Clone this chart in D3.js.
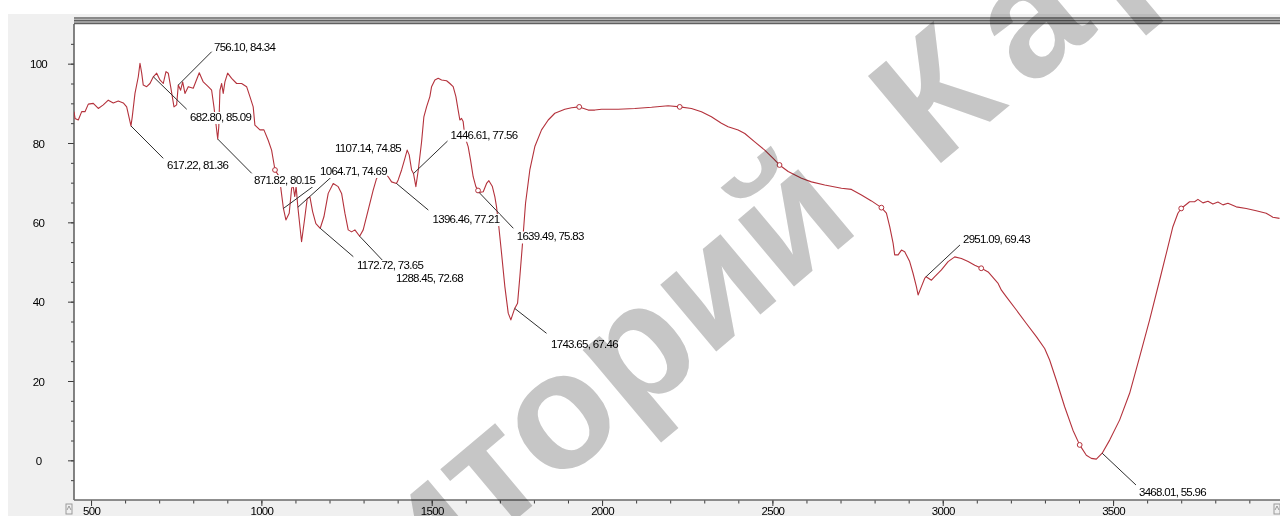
<!DOCTYPE html>
<html>
<head>
<meta charset="utf-8">
<script src="https://cdn.jsdelivr.net/npm/d3@7"></script>
<style>
  html, body { margin: 0; padding: 0; background: #ffffff; }
  svg { display: block; }
  .lbl { font-family: "Liberation Sans", Arial, sans-serif; font-size: 11.5px; letter-spacing: -0.7px; fill: #000; }
  .wm { white-space: pre; }
</style>
</head>
<body>
<svg id="chart" width="1280" height="516"></svg>
<script>
// IR spectrum: wavenumber (cm-1) and transmittance (display scale)
const wavenumber = [
  450, 453, 462.6, 472.6, 482.3, 492, 506.6, 521.3, 536, 550.6, 565.3, 580, 594.7, 604.6,
  617.22, 621, 629, 638.7, 643.7, 648.7, 653.3, 663.3, 673, 682.8, 692.7, 702.3, 712, 720,
  726.7, 733.7, 743.5, 751.3, 756.1, 763, 769, 775.7, 785.4, 800, 817.7, 829.4, 844, 854,
  860.8, 871.82, 875, 878.4, 883.4, 888, 893, 901, 912.7, 927.4, 942, 956.7, 966.4, 976,
  981, 995.8, 1007.5, 1020, 1030, 1040, 1049.5, 1056.5, 1064.71, 1072, 1081.7, 1088.8,
  1093, 1098, 1102, 1107.14, 1118, 1127.8, 1134.6, 1142.5, 1150.4, 1160, 1172.72, 1183.6,
  1196.2, 1210.9, 1225.5, 1235.5, 1245.2, 1254.9, 1264.8, 1274.5, 1288.45, 1298.9, 1313.5,
  1328.2, 1338.2, 1350, 1362, 1372.3, 1382.2, 1396.46, 1401.6, 1411.6, 1421.3, 1428,
  1433.9, 1441, 1446.61, 1453.5, 1460.3, 1470.3, 1477, 1484.9, 1494.6, 1499.6, 1509.3,
  1519, 1529, 1543.6, 1553.3, 1563, 1571, 1577.6, 1582.6, 1587.6, 1592.3, 1597.3, 1607,
  1614, 1621.7, 1629.6, 1639.49, 1651.3, 1661, 1667.8, 1677.7, 1685.4, 1690.3, 1697, 1705,
  1714.7, 1724.6, 1732.3, 1743.65, 1752, 1758.7, 1765.7, 1775.4, 1788, 1802.7, 1822.4,
  1842, 1861.4, 1890.7, 1910.4, 1933, 1959.5, 1978.8, 1998.5, 2047.5, 2096.2, 2145.2,
  2194, 2228.5, 2262.4, 2291.7, 2321, 2350.4, 2370, 2399.5, 2419, 2448.2, 2477.6, 2502.3,
  2521.6, 2546.3, 2585.4, 2614.7, 2653.7, 2702.7, 2732, 2761.4, 2790.7, 2820, 2834.7,
  2844.4, 2854.4, 2859, 2869, 2878.8, 2888.4, 2903, 2913, 2922.7, 2927.7, 2937.4, 2947.2,
  2951.09, 2966.9, 2976.6, 2996.2, 3015.8, 3035.2, 3054.9, 3074.5, 3094, 3113.6, 3133.3,
  3162.6, 3172.3, 3186.9, 3216.2, 3245.5, 3274.8, 3299.2, 3313.8, 3333.5, 3357.9, 3382.2,
  3401.9, 3421.5, 3436.2, 3450.9, 3468.01, 3490, 3519.4, 3548.6, 3578, 3607.3, 3636.6,
  3656.3, 3675.6, 3690.3, 3700, 3724.6, 3739.4, 3749.1, 3763.8, 3778.5, 3793.1, 3807.8,
  3822.5, 3837.2, 3861.5, 3890.9, 3920.2, 3949.5, 3969, 3988.6
];
const transmittance = [
  87.9, 86.2, 85.8, 87.9, 87.9, 89.8, 90.0, 88.7, 89.6, 90.8, 90.1, 90.6, 90.1, 89.1,
  84.3, 86.6, 92.5, 96.7, 100.1, 97.6, 94.6, 94.2, 95.0, 96.7, 97.6, 95.9, 95.0, 98.0,
  97.6, 94.2, 89.1, 89.6, 94.6, 93.3, 95.4, 92.5, 94.2, 93.8, 97.7, 95.4, 94.2, 93.3,
  89.1, 81.0, 84.1, 93.3, 95.0, 92.5, 95.4, 97.6, 96.3, 95.0, 95.0, 94.2, 91.7, 89.1,
  84.5, 83.3, 83.3, 80.7, 78.2, 73.2, 71.9, 69.0, 63.5, 60.6, 62.3, 68.6,
  69.3, 66.5, 69.0, 63.8, 55.1, 61.4, 66.0, 66.4, 62.7, 59.7, 58.5, 61.4,
  67.3, 69.8, 69.0, 67.3, 62.3, 58.1, 57.6, 58.1, 56.5, 58.1, 63.1,
  68.1, 71.1, 72.0, 72.0, 71.5, 70.2, 69.8, 70.7, 73.2, 76.1, 78.2,
  77.0, 73.2, 72.3, 69.0, 73.0, 80.3, 86.6, 89.1, 91.7, 94.2, 95.9,
  96.3, 95.9, 95.7, 95.0, 94.2, 91.7, 88.3, 85.8, 86.2, 85.4, 81.6, 79.1,
  75.7, 71.5, 69.0, 67.5, 67.7, 69.8, 70.5, 69.1, 66.4, 63.9, 58.9, 52.2,
  43.8, 37.1, 35.4, 38.3, 39.6, 46.3, 53.8, 64.8, 73.2, 79.1, 83.3,
  85.8, 87.5, 88.5, 88.9, 89.1, 88.3, 88.3, 88.5, 88.5, 88.7, 89.0,
  89.4, 89.1, 88.7, 87.9, 86.6, 85.0, 84.1, 83.3, 82.4, 80.3, 78.2, 76.1,
  74.4, 72.8, 71.1, 70.2, 69.4, 68.6, 68.3, 66.9, 65.4, 63.7, 62.3,
  58.9, 54.7, 51.8, 51.8, 53.0, 52.6, 50.1, 47.1, 43.8, 41.7, 43.8, 45.9,
  46.3, 45.4, 46.3, 48.0, 50.1, 51.3, 50.9, 50.1, 49.2, 48.4, 47.5,
  44.6, 42.9, 41.2, 37.9, 34.5, 31.2, 28.2, 25.3, 20.2, 13.5, 7.6,
  3.9, 1.3, 0.5, 0.3, 1.8, 5.1, 10.2, 16.9, 26.1, 35.4, 45.4,
  52.2, 58.9, 62.3, 63.5, 65.2, 65.2, 65.8, 64.9, 65.3, 64.6, 65.1,
  64.4, 64.8, 63.9, 63.5, 62.9, 62.3, 61.3, 61.0
];

// Picked peaks: wavenumber and reported transmittance
const peakWavenumber = [617.22, 682.80, 756.10, 871.82, 1064.71, 1107.14, 1172.72,
  1288.45, 1396.46, 1446.61, 1639.49, 1743.65, 2951.09, 3468.01];
const peakValue = [81.36, 85.09, 84.34, 80.15, 74.69, 74.85, 73.65,
  72.68, 77.21, 77.56, 75.83, 67.46, 69.43, 55.96];

// Evenly spaced cursor markers on the trace
const markerWavenumber = [1040, 1636, 1933, 2228, 2521, 2820, 3113, 3402, 3700];

// Axis ticks
const xMajorTicks = [500, 1000, 1500, 2000, 2500, 3000, 3500];
const yMajorTicks = [0, 20, 40, 60, 80, 100];

// Leader line end and label origin, relative to the peak point
const peakLayout = [
  {lx: 32.3, ly: 32.4, tx: 36, ty: 43.1},
  {lx: 33.4, ly: 32.5, tx: 36.7, ty: 44.2},
  {lx: 33.4, ly: -33.4, tx: 35.7, ty: -34.1},
  {lx: 34, ly: 34.3, tx: 36.3, ty: 45},
  {lx: 29.6, ly: -21.9, tx: 36.6, ty: -33.4},
  {lx: 33.8, ly: -30.5, tx: 37.1, ty: -55.2},
  {lx: 33.1, ly: 28.4, tx: 36.8, ty: 40.7},
  {lx: 33.7, ly: 35.5, tx: 36.4, ty: 45.3},
  {lx: 31.9, ly: 26.6, tx: 36.1, ty: 39.6},
  {lx: 34, ly: -32.5, tx: 37, ty: -34.8},
  {lx: 34.1, ly: 35.7, tx: 37.5, ty: 47.9},
  {lx: 31.8, ly: 24.9, tx: 36.3, ty: 39.6},
  {lx: 33.9, ly: -31.7, tx: 36.9, ty: -33.7},
  {lx: 33.8, ly: 31.8, tx: 36.8, ty: 42.8}
];

const W = 1280, H = 516;
const plot = {left: 74, top: 24, right: 1280, bottom: 500};

const svg = d3.select("#chart");

const x = d3.scaleLinear().domain([450, 3990]).range([plot.left, plot.right]);
const y = d3.scaleLinear().domain([-10, 110]).range([plot.bottom, plot.top]);

function valueAt(w) {
  const i = d3.bisectLeft(wavenumber, w);
  if (wavenumber[i] === w) return transmittance[i];
  const a = Math.max(0, i - 1), b = Math.min(wavenumber.length - 1, i);
  if (a === b) return transmittance[a];
  const f = (w - wavenumber[a]) / (wavenumber[b] - wavenumber[a]);
  return transmittance[a] + f * (transmittance[b] - transmittance[a]);
}

// window background
svg.append("rect").attr("width", W).attr("height", H).attr("fill", "#ffffff");
svg.append("rect").attr("x", 8).attr("y", 14).attr("width", W - 8).attr("height", H - 14).attr("fill", "#f0f0f0");
svg.append("rect").attr("x", plot.left).attr("y", plot.top)
  .attr("width", plot.right - plot.left).attr("height", plot.bottom - plot.top).attr("fill", "#ffffff");

// top frame bars
svg.append("rect").attr("x", plot.left).attr("y", 17).attr("width", plot.right - plot.left).attr("height", 7.5).attr("fill", "#b4b4b4");
[18, 20.7, 23.4].forEach(v => {
  svg.append("line").attr("x1", plot.left).attr("x2", plot.right).attr("y1", v).attr("y2", v)
    .attr("stroke", "#606060").attr("stroke-width", 1.2);
});

svg.append("defs").append("clipPath").attr("id", "plotClip")
  .append("rect").attr("x", plot.left).attr("y", plot.top)
  .attr("width", plot.right - plot.left).attr("height", plot.bottom - plot.top);

// y axis
const yMinor = svg.append("g").attr("transform", `translate(${plot.left},0)`)
  .call(d3.axisLeft(y).tickValues(d3.range(-5, 110, 5)).tickSize(3).tickFormat(""));
const yMajor = svg.append("g").attr("transform", `translate(${plot.left},0)`)
  .call(d3.axisLeft(y).tickValues(yMajorTicks).tickSize(6).tickFormat(d3.format("d")));
[yMinor, yMajor].forEach(g => {
  g.select(".domain").remove();
  g.selectAll("line").attr("stroke", "#3c3c3c");
  g.attr("font-size", null).attr("font-family", null);
});
yMajor.selectAll("text").attr("class", "lbl").attr("text-anchor", "middle")
  .attr("x", 38.5 - plot.left).attr("dy", null).attr("y", 4);

// x axis
const xMinor = svg.append("g").attr("transform", `translate(0,${plot.bottom})`)
  .call(d3.axisBottom(x).tickValues(d3.range(500, 3901, 100)).tickSize(3.5).tickFormat(""));
const xMajor = svg.append("g").attr("transform", `translate(0,${plot.bottom})`)
  .call(d3.axisBottom(x).tickValues(xMajorTicks).tickSize(6).tickFormat(d3.format("d")));
[xMinor, xMajor].forEach(g => {
  g.select(".domain").remove();
  g.selectAll("line").attr("stroke", "#3c3c3c");
  g.attr("font-size", null).attr("font-family", null);
});
xMajor.selectAll("text").attr("class", "lbl").attr("y", 15.3).attr("dy", null);

// axis lines
svg.append("line").attr("x1", plot.left).attr("x2", plot.left).attr("y1", plot.top).attr("y2", plot.bottom)
  .attr("stroke", "#505050").attr("stroke-width", 1.4);
svg.append("line").attr("x1", plot.left).attr("x2", plot.right).attr("y1", plot.bottom).attr("y2", plot.bottom)
  .attr("stroke", "#6a6a6a").attr("stroke-width", 1.6);

// small scroll handles at both ends of the x axis
[[66, 504], [1274, 504]].forEach(([hx, hy]) => {
  svg.append("rect").attr("x", hx).attr("y", hy).attr("width", 6).attr("height", 10)
    .attr("fill", "none").attr("stroke", "#9a9a9a").attr("stroke-width", 1);
  svg.append("path").attr("d", `M${hx + 1},${hy + 6}L${hx + 3},${hy + 2}L${hx + 5},${hy + 6}`)
    .attr("fill", "none").attr("stroke", "#9a9a9a").attr("stroke-width", 1);
});

// spectrum trace
const pts = wavenumber.map((w, i) => [w, transmittance[i]]);
const gPlot = svg.append("g").attr("clip-path", "url(#plotClip)");
gPlot.append("path").datum(pts)
  .attr("d", d3.line().x(d => x(d[0])).y(d => y(d[1])))
  .attr("fill", "none").attr("stroke", "#b4323c").attr("stroke-width", 1.1)
  .attr("stroke-linejoin", "round");

gPlot.selectAll("circle.mk").data(markerWavenumber).join("circle")
  .attr("class", "mk")
  .attr("cx", d => x(d)).attr("cy", d => y(valueAt(d))).attr("r", 2.4)
  .attr("fill", "#ffffff").attr("stroke", "#b4323c").attr("stroke-width", 1);

// peak labels
const peaks = peakWavenumber.map((w, i) => ({
  w, v: peakValue[i], ax: x(w), ay: y(valueAt(w)), lay: peakLayout[i]
}));
const gLab = svg.append("g");
gLab.selectAll("line").data(peaks).join("line")
  .attr("x1", d => d.ax).attr("y1", d => d.ay)
  .attr("x2", d => d.ax + d.lay.lx).attr("y2", d => d.ay + d.lay.ly)
  .attr("stroke", "#2e2e2e").attr("stroke-width", 1);

const tg = gLab.selectAll("g.pk").data(peaks).join("g").attr("class", "pk");
tg.append("rect").attr("fill", "#ffffff");
tg.append("text").attr("class", "lbl")
  .attr("x", d => d.ax + d.lay.tx).attr("y", d => d.ay + d.lay.ty)
  .text(d => `${d.w.toFixed(2)}, ${d.v.toFixed(2)}`);
tg.each(function() {
  const t = d3.select(this).select("text");
  const b = t.node().getBBox();
  d3.select(this).select("rect")
    .attr("x", b.x - 1).attr("y", b.y + 1).attr("width", b.width + 1).attr("height", b.height);
});

// repository watermark; the second word starts at the group origin
const wmWords = ["Репозиторий", "КарГУ"];
const wm = svg.append("g").attr("transform", "translate(898,199) rotate(-40)")
  .style("mix-blend-mode", "multiply");
const wmT = wm.append("text").attr("class", "wm")
  .attr("font-family", "Liberation Sans, Arial, sans-serif")
  .attr("font-size", 165).attr("font-weight", "bold")
  .attr("fill", "#c6c6c6");
wmT.append("tspan").text(wmWords[0] + " ");
wmT.append("tspan").attr("dx", 45).attr("letter-spacing", 22).text(wmWords[1]);
const firstLen = wmT.node().getSubStringLength(0, wmWords[0].length + 1);
wmT.attr("x", -firstLen);
</script>
</body>
</html>
